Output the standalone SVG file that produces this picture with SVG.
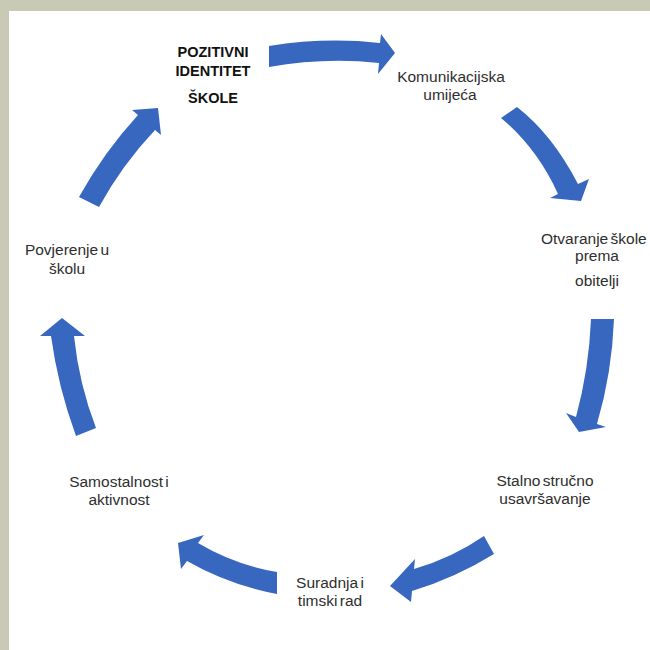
<svg xmlns="http://www.w3.org/2000/svg" width="650" height="650" viewBox="0 0 650 650">
  <style>
    .lbl { font-family: "Liberation Sans", Arial, sans-serif; font-size: 15.5px; word-spacing: -2px; fill: #2e2e2e; }
    .title { font-family: "Liberation Sans", Arial, sans-serif; font-size: 14.5px; font-weight: bold; fill: #111; }
    .arrow { fill: #3767bf; }
  </style>

  <!-- frame and page -->
  <rect x="0" y="0" width="650" height="650" fill="#c8cab6"/>
  <rect x="9" y="11" width="641" height="639" fill="#ffffff"/>

  <!-- curved cycle arrows -->
  <g id="connectors">
    <path class="arrow" d="M269,46 Q325,37 380,43 L381,34 L395,53 L378,74 L379,63 Q325,57 269,67 Z"/>
    <path class="arrow" d="M517,107 Q552,134 578,184 L589,179 L581,201 L550,198 L558,194 Q537,148 501,118 Z"/>
    <path class="arrow" d="M614,319 Q612,373 597,424 L606,427 L579,432 L566,413 L576,417 Q589,369 591,319 Z"/>
    <path class="arrow" d="M494,554 Q455,578 412,591 L411,602 L390,586 L415,559 L414,569 Q452,558 484,536 Z"/>
    <path class="arrow" d="M277,572 Q235,565 198,543 L204,535 L178,543 L181,569 L187,561 Q229,585 277,594 Z"/>
    <path class="arrow" d="M76,436 Q58,387 51,336 L40,336 L62,318 L85,336 L74,336 Q79,384 96,428 Z"/>
    <path class="arrow" d="M79,197 Q104,152 138,115 L132,110 L158,108 L161,135 L155,130 Q122,165 99,207 Z"/>
  </g>

  <!-- cycle stages -->
  <g id="node-identitet">
    <text class="title" x="213" y="57" text-anchor="middle">POZITIVNI</text>
    <text class="title" x="213" y="76" text-anchor="middle">IDENTITET</text>
    <text class="title" x="213" y="103" text-anchor="middle">ŠKOLE</text>
  </g>
  <g id="node-komunikacija">
    <text class="lbl" x="451" y="82" text-anchor="middle">Komunikacijska</text>
    <text class="lbl" x="450" y="100" text-anchor="middle">umijeća</text>
  </g>
  <g id="node-otvaranje">
    <text class="lbl" x="541" y="244">Otvaranje škole</text>
    <text class="lbl" x="597" y="261" text-anchor="middle">prema</text>
    <text class="lbl" x="597" y="286" text-anchor="middle">obitelji</text>
  </g>
  <g id="node-usavrsavanje">
    <text class="lbl" x="545" y="486" text-anchor="middle">Stalno stručno</text>
    <text class="lbl" x="545" y="504" text-anchor="middle">usavršavanje</text>
  </g>
  <g id="node-suradnja">
    <text class="lbl" x="330" y="588" text-anchor="middle">Suradnja i</text>
    <text class="lbl" x="330" y="606" text-anchor="middle">timski rad</text>
  </g>
  <g id="node-samostalnost">
    <text class="lbl" x="119" y="487" text-anchor="middle">Samostalnost i</text>
    <text class="lbl" x="119" y="505" text-anchor="middle">aktivnost</text>
  </g>
  <g id="node-povjerenje">
    <text class="lbl" x="67" y="255" text-anchor="middle">Povjerenje u</text>
    <text class="lbl" x="67" y="274" text-anchor="middle">školu</text>
  </g>
</svg>
